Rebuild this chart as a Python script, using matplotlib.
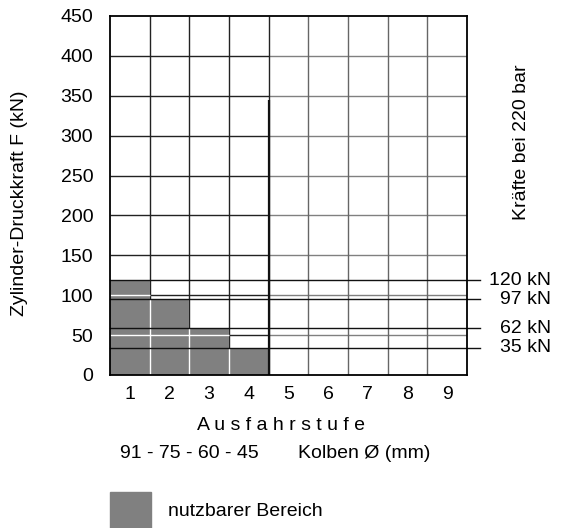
import numpy as np
import matplotlib
matplotlib.use("Agg")
import matplotlib.pyplot as plt
import matplotlib.transforms as mtransforms

plt.rcParams['font.family'] = ['Liberation Sans', 'DejaVu Sans']

# data
stufen = [1, 2, 3, 4, 5, 6, 7, 8, 9]
bar_stufen = [1, 2, 3, 4]
bar_heights = [119, 95, 58.5, 34]
ref_levels = [119, 95, 58.5, 34]
ref_labels = ['120 kN', '97 kN', '62 kN', '35 kN']
y_ticks = [0, 50, 100, 150, 200, 250, 300, 350, 400, 450]

FS = 14

fig = plt.figure(figsize=(5.62, 5.28), dpi=100)
ax = fig.add_axes([0.1957, 0.2898, 0.6352, 0.6799])
ax.set_xlim(0.5, 9.5)
ax.set_ylim(0, 450)

# grid: dark in the first four columns, lighter in the rest
split = 4.5
for y in y_ticks[1:-1]:
    ax.hlines(y, 0.5, split, color='#222222', lw=1.0, zorder=1)
    ax.hlines(y, split, 9.5, color='#808080', lw=1.0, zorder=1)
for x in np.arange(1.5, 9.5, 1.0):
    c = '#222222' if x <= split else '#666666'
    ax.vlines(x, 0, 450, color=c, lw=1.0, zorder=1)

# usable area
ax.bar(bar_stufen, bar_heights, width=1.0, color='#808080', zorder=3)

# white grid lines on top of the grey area
for y in y_ticks[1:-1]:
    for s, h in zip(bar_stufen, bar_heights):
        if h > y:
            ax.hlines(y, s - 0.5, s + 0.5, color='white', lw=1.0, zorder=4)
for i in range(len(bar_stufen) - 1):
    top = min(bar_heights[i], bar_heights[i + 1])
    ax.vlines(bar_stufen[i] + 0.5, 0, top, color='white', lw=1.0, zorder=4)

ax.vlines(split, 0, 345, color='#111111', lw=1.6, zorder=5)

# force lines and labels on the right
trans = mtransforms.blended_transform_factory(ax.transAxes, ax.transData)
for lvl, lab in zip(ref_levels, ref_labels):
    ax.plot([0, 1.036], [lvl, lvl], transform=trans, color='#111111', lw=1.0,
            clip_on=False, zorder=5)
    ax.text(1.235, lvl, lab, transform=trans, ha='right', va='center', fontsize=FS)

for sp in ax.spines.values():
    sp.set_linewidth(1.3)
    sp.set_zorder(6)

ax.set_xticks(stufen)
ax.set_xticklabels([str(s) for s in stufen])
ax.set_yticks(y_ticks)
ax.tick_params(length=0, labelsize=FS)
ax.tick_params(axis='x', pad=8)
ax.tick_params(axis='y', pad=12)

fig.text(20 / 562, 1 - 203 / 528, 'Zylinder-Druckkraft F (kN)', rotation=90,
         ha='center', va='center', fontsize=FS)
fig.text(522 / 562, 1 - 142 / 528, 'Kräfte bei 220 bar', rotation=90, ha='center',
         va='center', fontsize=FS)

fig.text(281 / 562, 1 - 425 / 528, 'A u s f a h r s t u f e', ha='center', va='center',
         fontsize=FS)
fig.text(120 / 562, 1 - 453 / 528, '91 - 75 - 60 - 45', ha='left', va='center',
         fontsize=FS)
fig.text(298 / 562, 1 - 453 / 528, 'Kolben Ø (mm)', ha='left', va='center',
         fontsize=FS)

# legend box
fig.patches.append(plt.Rectangle((110 / 562, 0), 41 / 562, 36 / 528,
                                 transform=fig.transFigure, color='#808080'))
fig.text(168 / 562, 1 - 512 / 528, 'nutzbarer Bereich', ha='left', va='center',
         fontsize=FS)

fig.savefig('out.png', dpi=100)
